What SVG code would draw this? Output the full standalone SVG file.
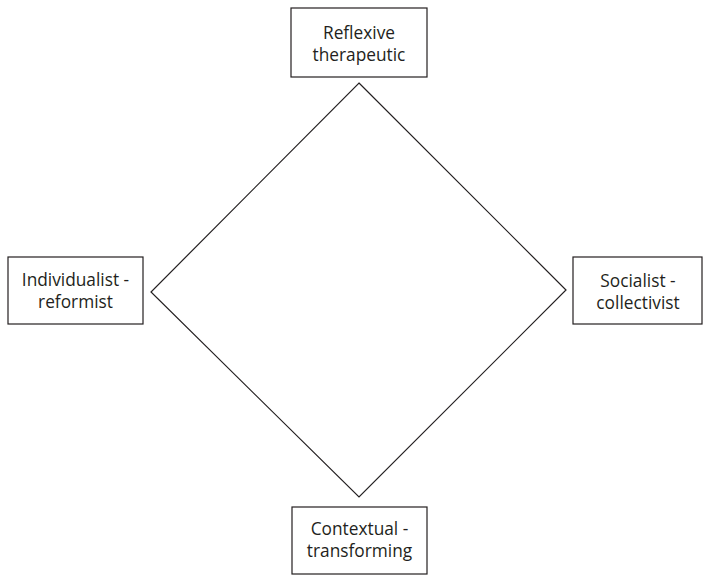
<svg xmlns="http://www.w3.org/2000/svg" width="703" height="575" viewBox="0 0 703 575">
<style>
.box{fill:#fff;stroke:#231f20;stroke-width:1.2}
.t{font-family:"Open Sans","Noto Sans",sans-serif;font-size:17.3px;fill:#231f20;text-anchor:middle}
.edge{fill:none;stroke:#231f20;stroke-width:1.2}
</style>
<rect width="703" height="575" fill="#fff"/>
<g id="connectors">
<polygon class="edge" points="359,83 566,290 359,497 151,292"/>
</g>
<g id="top">
<rect class="box" x="291" y="8" width="136" height="69"/>
<text class="t" x="359" y="39">Reflexive</text>
<text class="t" x="359" y="61">therapeutic</text>
</g>
<g id="left">
<rect class="box" x="8" y="257" width="135" height="67"/>
<text class="t" x="75.5" y="286">Individualist -</text>
<text class="t" x="75.5" y="308">reformist</text>
</g>
<g id="right">
<rect class="box" x="573" y="257" width="129" height="67"/>
<text class="t" x="638" y="287">Socialist -</text>
<text class="t" x="638" y="309">collectivist</text>
</g>
<g id="bottom">
<rect class="box" x="292" y="507" width="135" height="67"/>
<text class="t" x="359.5" y="535">Contextual -</text>
<text class="t" x="359.5" y="557">transforming</text>
</g>
</svg>
